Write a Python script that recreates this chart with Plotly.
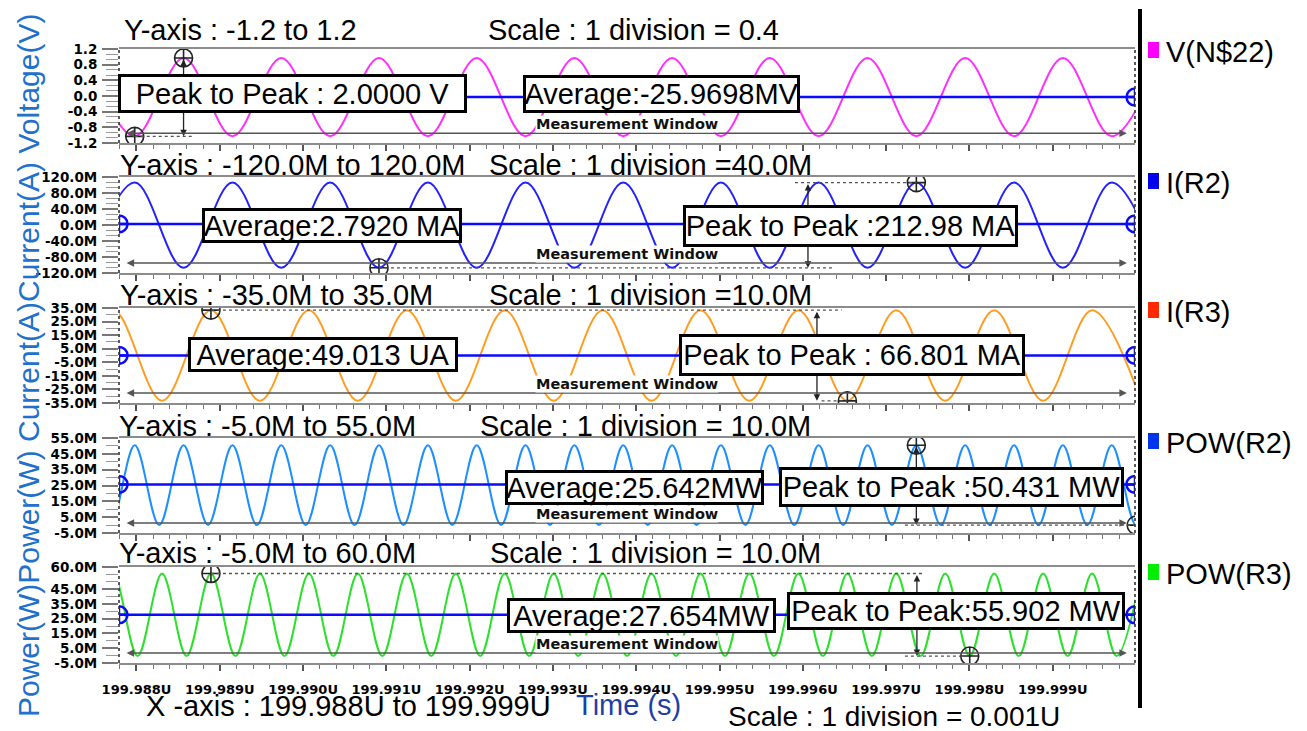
import plotly.graph_objects as go

W, H = 1307, 731
OFF = 8  # page body margin: figure starts 8px from the page corner

# ---------------- data (time in µs, currents in mA, power in mW) ----------------
# extrema times of V(N$22) / I(R2)
t_v = [199.987393, 199.987979, 199.988565, 199.989152, 199.989738, 199.990325,
       199.990911, 199.991498, 199.992084, 199.992670, 199.993257, 199.993843,
       199.994430, 199.995016, 199.995603, 199.996189, 199.996776, 199.997362,
       199.997948, 199.998535, 199.999121, 199.999708, 200.000294]
v_n22 = [0.97, -1.03, 0.97, -1.03, 0.97, -1.03, 0.97, -1.03, 0.97, -1.03, 0.97, -1.03,
         0.97, -1.03, 0.97, -1.03, 0.97, -1.03, 0.97, -1.03, 0.97, -1.03, 0.97]
i_r2 = [-107, 106, -107, 106, -107, 106, -107, 106, -107, 106, -107, 106,
        -107, 106, -107, 106, -107, 106, -107, 106, -107, 106, -107]

# extrema times of I(R3)
t_i3 = [199.987131, 199.987719, 199.988307, 199.988894, 199.989482, 199.990070,
        199.990657, 199.991245, 199.991833, 199.992420, 199.993008, 199.993596,
        199.994183, 199.994771, 199.995358, 199.995946, 199.996534, 199.997121,
        199.997709, 199.998297, 199.998884, 199.999472, 200.000060]
i_r3 = [-33.4, 33.4, -33.4, 33.4, -33.4, 33.4, -33.4, 33.4, -33.4, 33.4, -33.4, 33.4,
        -33.4, 33.4, -33.4, 33.4, -33.4, 33.4, -33.4, 33.4, -33.4, 33.4, -33.4]

# POW(R2): peaks at I(R2) extrema, troughs between
t_p2_peak = t_v
p2_peak = [50.4, 50.4, 50.4, 50.4, 50.4, 50.4, 50.4, 50.4, 50.4, 50.4, 50.4, 50.4,
           50.4, 50.4, 50.4, 50.4, 50.4, 50.4, 50.4, 50.4, 50.4, 50.4, 50.4]
t_p2_trough = [199.987686, 199.988272, 199.988859, 199.989445, 199.990032, 199.990618,
               199.991205, 199.991791, 199.992377, 199.992964, 199.993550, 199.994137,
               199.994723, 199.995310, 199.995896, 199.996483, 199.997069, 199.997655,
               199.998242, 199.998828, 199.999415, 200.000001]
p2_trough = [0.0, 0.0, 0.0, 0.0, 0.0, 0.0, 0.0, 0.0, 0.0, 0.0, 0.0,
             0.0, 0.0, 0.0, 0.0, 0.0, 0.0, 0.0, 0.0, 0.0, 0.0, 0.0]

# POW(R3): peaks at I(R3) extrema, troughs between
t_p3_peak = t_i3
p3_peak = [55.6, 55.6, 55.6, 55.6, 55.6, 55.6, 55.6, 55.6, 55.6, 55.6, 55.6, 55.6,
           55.6, 55.6, 55.6, 55.6, 55.6, 55.6, 55.6, 55.6, 55.6, 55.6, 55.6]
t_p3_trough = [199.987425, 199.988013, 199.988601, 199.989188, 199.989776, 199.990364,
               199.990951, 199.991539, 199.992127, 199.992714, 199.993302, 199.993890,
               199.994477, 199.995065, 199.995652, 199.996240, 199.996828, 199.997415,
               199.998003, 199.998591, 199.999178, 199.999766]
p3_trough = [-0.3, -0.3, -0.3, -0.3, -0.3, -0.3, -0.3, -0.3, -0.3, -0.3, -0.3,
             -0.3, -0.3, -0.3, -0.3, -0.3, -0.3, -0.3, -0.3, -0.3, -0.3, -0.3]

averages = [-0.0259698, 2.7920, 0.049013, 25.642, 27.654]
average_labels = ["Average:-25.9698MV", "Average:2.7920 MA", "Average:49.013 UA",
                  "Average:25.642MW", "Average:27.654MW"]
p2p_labels = ["Peak to Peak : 2.0000 V", "Peak to Peak :212.98 MA", "Peak to Peak : 66.801 MA",
              "Peak to Peak :50.431 MW", "Peak to Peak:55.902 MW"]
series_names = ["V(N$22)", "I(R2)", "I(R3)", "POW(R2)", "POW(R3)"]
yaxis_titles = ["Y-axis : -1.2 to 1.2", "Y-axis : -120.0M to 120.0M", "Y-axis : -35.0M to 35.0M",
                "Y-axis : -5.0M to 55.0M", "Y-axis : -5.0M to 60.0M"]
scale_titles = ["Scale : 1 division = 0.4", "Scale : 1 division =40.0M", "Scale : 1 division =10.0M",
                "Scale : 1 division = 10.0M", "Scale : 1 division = 10.0M"]
y_ranges = [[-1.2, 1.2], [-120, 120], [-35, 35], [-5, 55], [-5, 60]]
y_tickvals = [[-1.2, -0.8, -0.4, 0.0, 0.4, 0.8, 1.2],
              [-120, -80, -40, 0, 40, 80, 120],
              [-35, -25, -15, -5, 5, 15, 25, 35],
              [-5, 5, 15, 25, 35, 45, 55],
              [-5, 5, 15, 25, 35, 45, 60]]
y_ticktext = [["-1.2", "-0.8", "-0.4", "0.0", "0.4", "0.8", "1.2"],
              ["-120.0M", "-80.0M", "-40.0M", "0.0M", "40.0M", "80.0M", "120.0M"],
              ["-35.0M", "-25.0M", "-15.0M", "-5.0M", "5.0M", "15.0M", "25.0M", "35.0M"],
              ["-5.0M", "5.0M", "15.0M", "25.0M", "35.0M", "45.0M", "55.0M"],
              ["-5.0M", "5.0M", "15.0M", "25.0M", "35.0M", "45.0M", "60.0M"]]
y_minor_dtick = [0.4 / 3, 40 / 3, 5, 5, 5]

x_range = [199.987790, 199.999987]
x_tickvals = [199.988, 199.989, 199.990, 199.991, 199.992, 199.993,
              199.994, 199.995, 199.996, 199.997, 199.998, 199.999]
x_ticktext = ["199.988U", "199.989U", "199.990U", "199.991U", "199.992U", "199.993U",
              "199.994U", "199.995U", "199.996U", "199.997U", "199.998U", "199.999U"]

cursor_top = [(199.988565, 0.97), (199.997362, 106), (199.988894, 33.4),
              (199.997362, 50.4), (199.988894, 55.6)]
cursor_bot = [(199.987979, -1.03), (199.990911, -107), (199.996534, -33.4),
              (200.000001, 0.0), (199.998003, -0.3)]
arrow_x = [199.988565, 199.996061, 199.996169, 199.997362, 199.997369]
dash_top = [None, (199.995905, 199.997362), (199.988894, 199.996465),
            None, (199.988894, 199.997465)]
dash_bot = [(199.987979, 199.988666), (199.990911, 199.996362), (199.996224, 199.996534),
            (199.997225, 200.000001), (199.997225, 199.998003)]

wave_colors = ["#ff30ff", "#2222ff", "#ff9c1f", "#1e8fff", "#2ee02e"]
legend_colors = ["#ff00ff", "#0000ee", "#ff2a00", "#0033ee", "#00ee00"]

# ---------------- layout geometry (page pixels) ----------------
plot_left, plot_right = 119, 1135
panel_px = [(49, 143), (177, 273), (308, 403), (438, 533), (567, 663)]
title_y = [30, 165, 295, 426, 553]
yaxis_title_x = [122, 118, 118, 117, 117]
scale_title_x = [486, 487, 487, 478, 488]
avg_box = [(523, 800, 75, 113), (202, 462, 208, 243), (188, 458, 337, 372),
           (505, 764, 470, 505), (507, 776, 598, 633)]
p2p_box = [(118, 467, 74, 113), (683, 1018, 205, 247), (679, 1025, 334, 376),
           (779, 1124, 467, 507), (787, 1125, 592, 630)]
legend_y = [50, 181, 310, 441, 572]


def px(x):
    return (x - OFF) / W


def py(y):
    return 1 - (y - OFF) / H


fig = go.Figure()
layout = dict(width=W, height=H, margin=dict(l=0, r=0, t=0, b=0, pad=0, autoexpand=False),
              paper_bgcolor="white", plot_bgcolor="white", showlegend=False,
              font=dict(family="Liberation Sans", color="black"))
annotations = []
shapes = []

waves = [(t_v, v_n22), (t_v, i_r2), (t_i3, i_r3), None, None]
# merge POW peaks and troughs by time
p2_pts = sorted(list(zip(t_p2_peak, p2_peak)) + list(zip(t_p2_trough, p2_trough)))
p3_pts = sorted(list(zip(t_p3_peak, p3_peak)) + list(zip(t_p3_trough, p3_trough)))
waves[3] = ([p[0] for p in p2_pts], [p[1] for p in p2_pts])
waves[4] = ([p[0] for p in p3_pts], [p[1] for p in p3_pts])

for i in range(5):
    n = "" if i == 0 else str(i + 1)
    xa, ya = "x" + n, "y" + n
    top, bot = panel_px[i]
    layout["xaxis" + n] = dict(
        domain=[px(plot_left), px(plot_right)], range=x_range, anchor=ya, automargin=False,
        showgrid=False, zeroline=False, showline=True, mirror=True,
        linecolor="#8c8c8c", linewidth=2,
        tickmode="array", tickvals=x_tickvals, ticktext=["<b>%s</b>" % s for s in x_ticktext],
        ticks="outside", ticklen=6, tickwidth=1.5, tickcolor="#555",
        minor=dict(tickmode="linear", tick0=199.988, dtick=0.0002, ticks="outside",
                   ticklen=4, tickcolor="#777", tickwidth=1),
        showticklabels=(i == 4), ticklabelstandoff=7,
        tickfont=dict(family="DejaVu Sans", size=13, color="black"),
        fixedrange=True,
    )
    if i > 0:
        layout["xaxis" + n]["matches"] = "x"
    layout["yaxis" + n] = dict(
        domain=[py(bot), py(top)], range=y_ranges[i], anchor=xa, automargin=False,
        showgrid=False, zeroline=False, showline=False,
        tickmode="array", tickvals=y_tickvals[i], ticktext=["<b>%s</b>" % s for s in y_ticktext[i]],
        ticks="outside", ticklen=16, tickwidth=1.5, tickcolor="#777",
        minor=dict(tickmode="linear", tick0=y_ranges[i][0], dtick=y_minor_dtick[i],
                   ticks="outside", ticklen=12, tickcolor="#999", tickwidth=1),
        ticklabelstandoff=2,
        tickfont=dict(family="DejaVu Sans", size=13.5, color="black"),
        fixedrange=True,
    )
    # dotted left / right frame lines
    for xd in (0, 1):
        shapes.append(dict(type="line", xref=xa + " domain", yref=ya + " domain",
                           x0=xd, x1=xd, y0=0, y1=1,
                           line=dict(color="#333", width=1.6, dash="dot")))

    # waveform
    tx, vy = waves[i]
    fig.add_trace(go.Scatter(x=tx, y=vy, mode="lines", xaxis=xa, yaxis=ya,
                             line=dict(color=wave_colors[i], width=2, shape="spline", smoothing=1.0)))
    # average line with end cursors
    fig.add_trace(go.Scatter(x=x_range, y=[averages[i], averages[i]], mode="lines+markers",
                             xaxis=xa, yaxis=ya,
                             line=dict(color="#0a0aff", width=2.5),
                             marker=dict(symbol="circle-cross-open", size=17, color="#0a0aff",
                                         line=dict(width=2.5, color="#0a0aff"))))
    # dashed cursor lines
    if dash_top[i] is not None:
        shapes.append(dict(type="line", xref=xa, yref=ya, x0=dash_top[i][0], x1=dash_top[i][1],
                           y0=cursor_top[i][1], y1=cursor_top[i][1],
                           line=dict(color="#555", width=1.3, dash="dot")))
    shapes.append(dict(type="line", xref=xa, yref=ya, x0=dash_bot[i][0], x1=dash_bot[i][1],
                       y0=cursor_bot[i][1], y1=cursor_bot[i][1],
                       line=dict(color="#555", width=1.3, dash="dot")))
    # peak/trough cursors
    fig.add_trace(go.Scatter(x=[cursor_top[i][0], cursor_bot[i][0]],
                             y=[cursor_top[i][1], cursor_bot[i][1]], mode="markers",
                             xaxis=xa, yaxis=ya,
                             marker=dict(symbol="circle-cross-open", size=18, color="#222",
                                         line=dict(width=1.6, color="#222"))))
    # vertical peak-to-peak arrow
    annotations.append(dict(xref=xa, yref=ya, axref=xa, ayref=ya,
                            x=arrow_x[i], y=cursor_bot[i][1], ax=arrow_x[i], ay=cursor_top[i][1],
                            text="", showarrow=True, arrowhead=2, arrowside="end+start",
                            arrowsize=1, arrowwidth=1.3, arrowcolor="#222"))
    # measurement window arrow + label
    annotations.append(dict(xref=xa + " domain", yref=ya + " domain",
                            axref=xa + " domain", ayref=ya + " domain",
                            x=0.992, y=0.105, ax=0.006, ay=0.105, text="", showarrow=True,
                            arrowhead=2, arrowside="end+start", arrowsize=1, arrowwidth=1.5,
                            arrowcolor="#555"))
    annotations.append(dict(xref=xa + " domain", yref=ya + " domain", x=0.5, y=0.105,
                            text="<b>Measurement Window</b>", showarrow=False, bgcolor="white",
                            borderpad=0,
                            font=dict(family="DejaVu Sans", size=14.5, color="#111")))
    # titles above each panel
    annotations.append(dict(xref="paper", yref="paper", x=px(yaxis_title_x[i]), y=py(title_y[i]),
                            xanchor="left", yanchor="middle", text=yaxis_titles[i],
                            showarrow=False, font=dict(size=29)))
    annotations.append(dict(xref="paper", yref="paper", x=px(scale_title_x[i]), y=py(title_y[i]),
                            xanchor="left", yanchor="middle", text=scale_titles[i],
                            showarrow=False, font=dict(size=29)))
    # measurement result boxes
    for (x0, x1, y0, y1), txt in ((avg_box[i], average_labels[i]), (p2p_box[i], p2p_labels[i])):
        annotations.append(dict(xref="paper", yref="paper", x=px((x0 + x1) / 2), y=py((y0 + y1) / 2),
                                xanchor="center", yanchor="middle", text=txt, showarrow=False,
                                width=x1 - x0 - 6, height=y1 - y0 - 6, align="center",
                                bgcolor="white", bordercolor="black", borderwidth=3, borderpad=0,
                                font=dict(size=29)))
    # legend entry
    shapes.append(dict(type="rect", xref="paper", yref="paper",
                       x0=px(1148), x1=px(1159), y0=py(legend_y[i] + 8), y1=py(legend_y[i] - 8),
                       fillcolor=legend_colors[i], line=dict(width=0)))
    annotations.append(dict(xref="paper", yref="paper", x=px(1164), y=py(legend_y[i] + 2),
                            xanchor="left", yanchor="middle", text=series_names[i],
                            showarrow=False, font=dict(size=29)))

# right separator line
shapes.append(dict(type="line", xref="paper", yref="paper", x0=px(1140), x1=px(1140),
                   y0=py(708), y1=py(9), line=dict(color="black", width=4)))

# axis titles / footer texts
annotations.append(dict(xref="paper", yref="paper", x=px(28), y=py(366), textangle=-90,
                        text="Power(W)Power(W) Current(A)Current(A) Voltage(V)", showarrow=False,
                        xanchor="center", yanchor="middle",
                        font=dict(size=30, color="#2070cc")))
annotations.append(dict(xref="paper", yref="paper", x=px(144), y=py(706), xanchor="left",
                        yanchor="middle", text="X -axis : 199.988U to 199.999U", showarrow=False,
                        font=dict(size=29)))
annotations.append(dict(xref="paper", yref="paper", x=px(574), y=py(705), xanchor="left",
                        yanchor="middle", text="Time (s)", showarrow=False,
                        font=dict(size=29, color="#1f3fa6")))
annotations.append(dict(xref="paper", yref="paper", x=px(726), y=py(716), xanchor="left",
                        yanchor="middle", text="Scale : 1 division = 0.001U", showarrow=False,
                        font=dict(size=28)))

layout["annotations"] = annotations
layout["shapes"] = shapes
fig.update_layout(**layout)
fig.write_html("out.html")
